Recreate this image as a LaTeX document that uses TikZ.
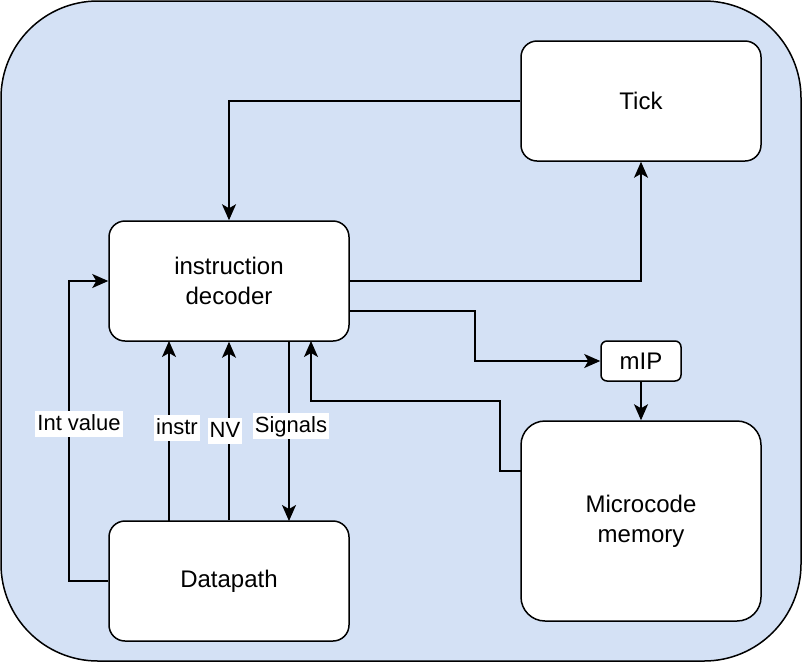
\documentclass[tikz,border=0pt]{standalone}
\usepackage{fontspec}
\setmainfont{Liberation Sans}
\usetikzlibrary{arrows.meta}
\definecolor{bgblue}{HTML}{D4E1F5}
\tikzset{
  box/.style={draw=black, line width=1.5pt, fill=white, rounded corners=16pt, align=center,
    font=\fontsize{24}{30}\selectfont, inner sep=0pt},
  conn/.style={draw=black, line width=1.5pt, -{Stealth[length=16pt, width=14pt, inset=4pt]}},
  elabel/.style={fill=white, inner xsep=2pt, inner ysep=0pt, minimum height=26pt,
    font=\fontsize{22}{26}\selectfont, text height=17pt, text depth=5pt}
}
\begin{document}
\begin{tikzpicture}[x=1pt, y=-1pt]
\useasboundingbox (0,0) rectangle (802,662);
\draw[line width=1.5pt, fill=bgblue, rounded corners=97pt] (1,1) rectangle (801,661);

\node[box, minimum width=240pt, minimum height=120pt] (dec) at (229,281) {instruction\\decoder};
\node[box, minimum width=240pt, minimum height=120pt] (tick) at (641,101) {Tick};
\node[box, minimum width=240pt, minimum height=120pt] (dp) at (229,581) {Datapath};
\node[box, minimum width=240pt, minimum height=200pt, rounded corners=24pt] (mc) at (641,521) {Microcode\\memory};
\node[box, minimum width=80pt, minimum height=40pt, rounded corners=6pt] (mip) at (641,361) {mIP};

% Tick -> decoder
\draw[conn] (tick.west) -| (dec.north);
% decoder -> Tick
\draw[conn] (dec.east) -| (tick.south);
% decoder -> mIP
\coordinate (d3) at (349,311);
\draw[conn] (d3) -| (475,361) -- (mip.west);
% mIP -> microcode
\draw[conn] (mip.south) -- (mc.north);
% microcode -> decoder
\coordinate (m1) at (521,471);
\coordinate (dbot) at (311,341);
\draw[conn] (m1) -| (500,401) -| (dbot);
% datapath -> decoder (Int value)
\draw[conn] (dp.west) -| (69,281) -- (dec.west);
% instr, NV, Signals
\coordinate (dpi) at (169,521);
\coordinate (deci) at (169,341);
\draw[conn] (dpi) -- (deci);
\draw[conn] (dp.north) -- (dec.south);
\coordinate (decs) at (289,341);
\coordinate (dps) at (289,521);
\draw[conn] (decs) -- (dps);

\node[elabel] (lint) at (79,424) {Int value};
\node[elabel] (linstr) at (177,428) {instr};
\node[elabel] (lnv) at (225,431) {NV};
\node[elabel] (lsig) at (291,426) {Signals};
\end{tikzpicture}
\end{document}
